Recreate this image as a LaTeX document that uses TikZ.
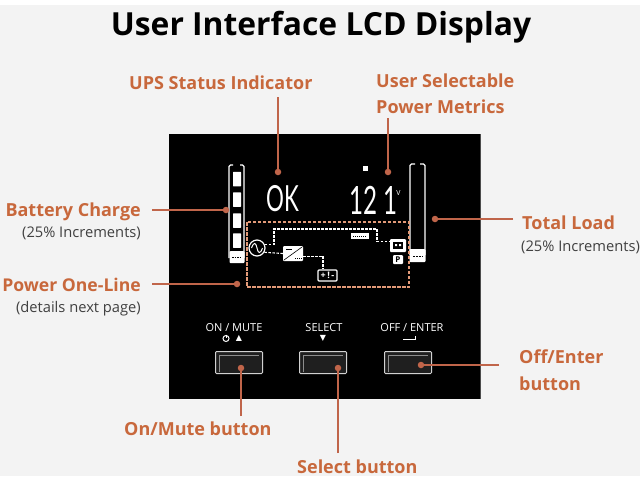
\documentclass[tikz,border=0pt]{standalone}
\usepackage{fontspec}
\setmainfont{Open Sans}
\newfontfamily\lcdfont[FakeStretch=0.62]{Lato}
\newfontfamily\symfont{DejaVu Sans}
\usetikzlibrary{positioning}
\definecolor{callout}{HTML}{C8683C}
\definecolor{leaderline}{HTML}{C0654A}
\definecolor{paper}{HTML}{F3F3F3}
\definecolor{dashbox}{HTML}{E39A78}
\tikzset{
  headlabel/.style={font=\fontsize{18}{18}\selectfont\bfseries, text=callout, inner sep=0pt},
  sublabel/.style={font=\fontsize{14.7}{14.7}\selectfont, text=black!75, inner sep=0pt},
  keylabel/.style={font=\fontsize{11}{11}\selectfont, text=white, inner sep=0pt},
  leader/.style={draw=leaderline, line width=1.2pt},
  dot/.style={circle, fill=leaderline, inner sep=0pt, minimum size=6.5pt},
  keybox/.style={draw=black!18, fill=black!88, rounded corners=1pt, line width=1pt, inner sep=0pt, minimum width=47pt, minimum height=22pt},
  lcdbox/.style={fill=white, rounded corners=1pt, inner sep=0pt},
  flow/.style={draw=white, line width=1.1pt, dash pattern=on 2.5pt off 1.5pt},
  bar/.style={draw=white, line width=1.2pt, rounded corners=1.5pt},
  seg/.style={fill=white, inner sep=0pt, minimum width=8pt, minimum height=14.5pt, rounded corners=.5pt},
}
\begin{document}
\begin{tikzpicture}[x=1pt, y=-1pt]
  \useasboundingbox (0,0) rectangle (640,483);
  \fill[white] (0,0) rectangle (640,483);
  \fill[paper] (0,5) rectangle (640,476);
  % panel
  \fill[black] (169,134) rectangle (480,399);
  \draw[black!70, line width=.6pt] (480,134) -- (480,399);

  \node[font=\fontsize{31.8}{31.8}\selectfont\bfseries, inner sep=0pt, anchor=base] (title) at (321,35) {User Interface LCD Display};

  % labels
  \node[headlabel, anchor=base west] (statuslabel) at (129,89) {UPS Status Indicator};
  \node[headlabel, anchor=base west] (metricslabel) at (376,87) {User Selectable};
  \node[headlabel, anchor=base west] (metricslabelb) at (376,113) {Power Metrics};
  \node[headlabel, anchor=base east] (chargelabel) at (141,216) {Battery Charge};
  \node[sublabel, anchor=base east] (chargesub) at (141,237) {(25\% Increments)};
  \node[headlabel, anchor=base east, font=\fontsize{17.6}{17.6}\selectfont\bfseries] (onelinelabel) at (141,291) {Power One-Line};
  \node[sublabel, anchor=base east] (onelinesub) at (141,312) {(details next page)};
  \node[headlabel, anchor=base west] (loadlabel) at (522,229) {Total Load};
  \node[sublabel, anchor=base west] (loadsub) at (521,251) {(25\% Increments)};
  \node[headlabel, anchor=base west] (offlabel) at (519,363) {Off/Enter};
  \node[headlabel, anchor=base west] (offlabelb) at (519,390) {button};
  \node[headlabel, anchor=base west] (onlabel) at (124,435) {On/Mute button};
  \node[headlabel, anchor=base west] (selectlabel) at (297,473) {Select button};

  % lcd readout
  \node[font=\lcdfont\fontsize{36}{36}\selectfont, text=white, inner sep=0pt, anchor=base west] (okread) at (266,211) {OK};
  \node[font=\lcdfont\fontsize{39}{39}\selectfont, text=white, inner sep=0pt, anchor=base west] (voltread) at (349,214) {12\hspace{6pt}1};
  \node[font=\fontsize{7}{7}\selectfont, text=white, inner sep=0pt] (voltunit) at (398.5,193) {V};
  \node[fill=white, inner sep=0pt, minimum width=5pt, minimum height=5pt] (metricicon) at (365,168) {};

  % battery bar
  \draw[bar] (233,165) -- (229,165) -- (229,258);
  \draw[bar] (240,165) -- (244,165) -- (244,258);
  \node[seg] (sega) at (237,179) {};
  \node[seg] (segb) at (237,199.5) {};
  \node[seg] (segc) at (237,220.5) {};
  \node[seg] (segd) at (237,240.5) {};
  \node[lcdbox, minimum width=15pt, minimum height=12pt] (chargefoot) at (237,257) {};
  \draw[black, line width=1pt, dash pattern=on 1.5pt off 1pt] (232,257) -- (242,257);

  % load bar
  \draw[bar] (415,164) -- (410,164) -- (410,255);
  \draw[bar] (420,164) -- (425,164) -- (425,255);
  \node[lcdbox, minimum width=16pt, minimum height=13pt] (loadfoot) at (417.5,255.5) {};
  \draw[black, line width=.8pt, dash pattern=on 1.5pt off 1.5pt] (413,256) -- (423,256);

  % one-line
  \draw[dashbox, line width=1.2pt, dash pattern=on 3.5pt off 1.5pt] (247,222) rectangle (409,287);
  \node[circle, draw=white, line width=1.2pt, minimum size=16pt, inner sep=0pt] (acin) at (257,248) {};
  \draw[white, line width=1pt] (251.5,248) .. controls (254,241) and (256,243) .. (257,248) .. controls (258,253) and (260,255) .. (262.5,248);
  \node[lcdbox, minimum width=20pt, minimum height=15pt] (inverter) at (293,253.5) {};
  \draw[black, line width=.6pt] (284,260) -- (302,247);
  \draw[black, line width=.8pt] (286,249.5) -- (292,249.5);
  \draw[black, line width=.8pt, dash pattern=on 1pt off 1pt] (295,258) -- (302,258);
  \node[draw=white, line width=1.2pt, rounded corners=1pt, minimum width=19pt, minimum height=11pt, inner sep=0pt, font=\fontsize{9}{9}\selectfont\bfseries, text=white] (battery) at (327.5,275.5) {+\,!\,-};
  \node[lcdbox, minimum width=16pt, minimum height=13pt] (outlet) at (398,245.5) {};
  \fill[black] (393,242) rectangle (403,249);
  \fill[white] (395,244) rectangle (397,246) (399,244) rectangle (401,246);
  \node[lcdbox, minimum width=10pt, minimum height=9pt, font=\fontsize{8}{8}\selectfont\bfseries, text=black] (pmode) at (398,259.5) {P};
  \node[fill=white, inner sep=0pt, minimum width=18pt, minimum height=6pt] (bypass) at (360,236) {};
  \draw[black, line width=.6pt, dash pattern=on 1pt off 1pt] (353,236) -- (367,236);
  \coordinate (busa) at (274,229);
  \coordinate (busb) at (377,229);
  \coordinate (drop) at (323,256);
  \draw[flow] (acin.25) -| (busa) -- (busb) |- (outlet.155);
  \draw[flow] (acin.-30) -- (inverter.180);
  \draw[flow] (inverter.-15) -| (battery.north -| drop);

  % keys
  \node[keylabel, anchor=base] (onkey) at (234,331) {ON / MUTE};
  \node[keylabel, anchor=base] (selectkey) at (324,331) {SELECT};
  \node[keylabel, anchor=base] (offkey) at (412,331) {OFF / ENTER};
  \node[font=\symfont\fontsize{8}{8}\selectfont, text=white, inner sep=0pt] (upmark) at (239,338) {▲};
  \node[circle, draw=white, line width=1pt, minimum size=6pt, inner sep=0pt] (powermark) at (226,338.5) {};
  \draw[white, line width=1pt] (226,334.5) -- (226,338);
  \node[font=\symfont\fontsize{8}{8}\selectfont, text=white, inner sep=0pt] (downmark) at (323,338) {▼};
  \draw[white, line width=1pt] (403,339) -- (415,339) -- (415,335.5);
  \node[keybox] (onbutton) at (239,362.5) {};
  \node[keybox] (selectbutton) at (323,362.5) {};
  \node[keybox] (offbutton) at (408,362.5) {};
  \draw[black!45, line width=.6pt] (219,372) -- (219,355) -- (259,355);
  \draw[black!45, line width=.6pt] (303,372) -- (303,355) -- (343,355);
  \draw[black!45, line width=.6pt] (388,372) -- (388,355) -- (428,355);

  % leaders
  \node[dot] (statusdot) at (278,172) {};
  \node[dot] (metricsdot) at (388,172) {};
  \node[dot] (chargedot) at (226,210) {};
  \node[dot] (onelinedot) at (237,284) {};
  \node[dot] (loaddot) at (435,219) {};
  \node[dot] (offdot) at (421,365) {};
  \node[dot] (ondot) at (241,368) {};
  \node[dot] (selectdot) at (338,368) {};
  \coordinate (statustop) at (278,97);
  \coordinate (metricstop) at (388,118);
  \coordinate (chargeend) at (152,210);
  \coordinate (onelineend) at (152,284);
  \coordinate (loadend) at (513,219);
  \coordinate (offend) at (499,365);
  \coordinate (onend) at (241,416);
  \coordinate (selectend) at (338,453);
  \draw[leader] (statustop) -- (statusdot);
  \draw[leader] (metricstop) -- (metricsdot);
  \draw[leader] (chargeend) -- (chargedot);
  \draw[leader] (onelineend) -- (onelinedot);
  \draw[leader] (loadend) -- (loaddot);
  \draw[leader] (offend) -- (offdot);
  \draw[leader] (onend) -- (ondot);
  \draw[leader] (selectend) -- (selectdot);
\end{tikzpicture}
\end{document}
